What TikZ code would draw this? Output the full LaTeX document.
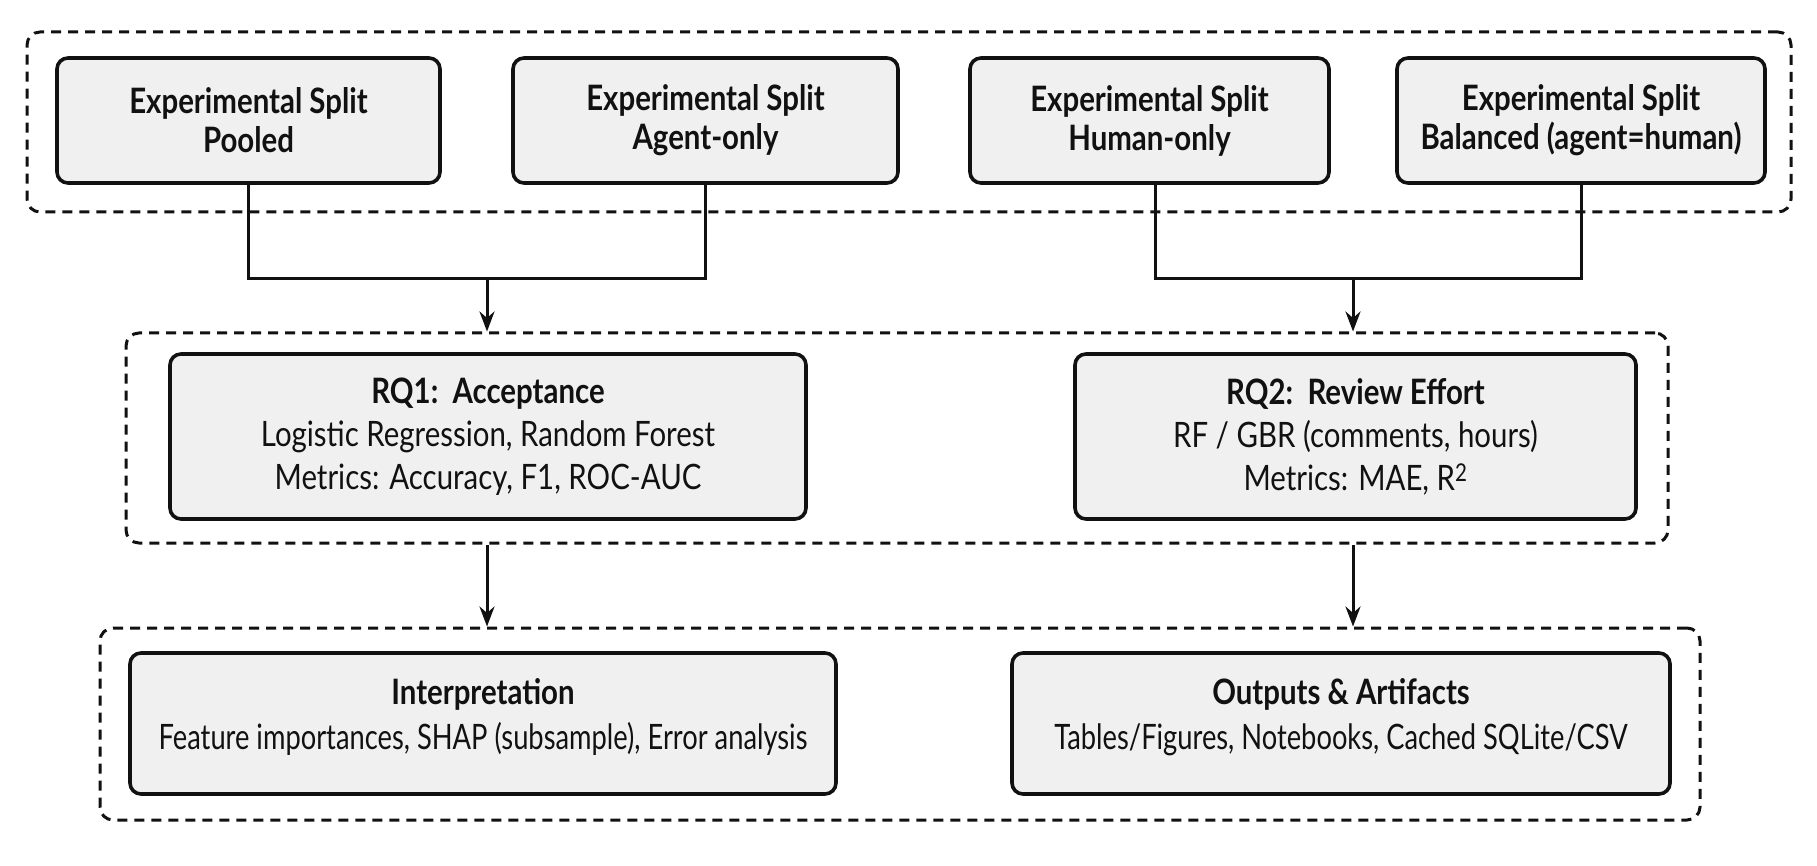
\documentclass[tikz,border=0pt]{standalone}
\usepackage{fontspec}
\setmainfont{Lato}[FakeStretch=0.84]
\newfontfamily\narrowfont{Lato}[FakeStretch=0.78]
\usetikzlibrary{arrows.meta,calc}
\definecolor{boxfill}{HTML}{F0F0F0}
\definecolor{ink}{HTML}{111111}
\newcommand{\lowstrut}{\rule[-20pt]{0pt}{0pt}}
\begin{document}
\begin{tikzpicture}[x=1pt,y=-1pt,
  box/.style={draw=ink,line width=3.6pt,fill=boxfill,rounded corners=11pt,align=center,inner sep=0pt,text=ink},
  splitbox/.style={box,minimum height=125pt,font=\fontsize{35}{39}\selectfont\bfseries},
  rqbox/.style={box,minimum height=165pt,font=\fontsize{35}{43}\selectfont},
  outbox/.style={box,minimum height=141pt,font=\fontsize{35}{45}\selectfont},
  group/.style={draw=ink,line width=3pt,dash pattern=on 10pt off 7pt,rounded corners=13pt,inner sep=0pt},
  link/.style={draw=ink,line width=3pt},
  arr/.style={link,-{Stealth[length=20pt,width=15pt]}}
]
\useasboundingbox (0,0) rectangle (1817,866);
% containers
\node[group,minimum width=1764pt,minimum height=180pt] (topgrp) at (909,122) {};
\node[group,minimum width=1542pt,minimum height=210pt] (midgrp) at (897,438) {};
\node[group,minimum width=1600pt,minimum height=192pt] (botgrp) at (900,724) {};
% top boxes
\node[splitbox,minimum width=383pt] (pooled) at (248.5,120.5) {Experimental Split\\Pooled};
\node[splitbox,minimum width=385pt] (agent) at (705.5,120.5) {Experimental Split\\Agent-only};
\node[splitbox,minimum width=359pt] (human) at (1149.5,120.5) {Experimental Split\\Human-only};
\node[splitbox,minimum width=368pt] (balanced) at (1581,120.5) {Experimental Split\\Balanced (agent=human)};
% middle boxes
\node[rqbox,minimum width=636pt] (rq1) at (488,436.5) {{\bfseries RQ1:\ \ Acceptance}\\Logistic Regression, Random Forest\\Metrics: Accuracy, F1, ROC-AUC};
\node[rqbox,minimum width=561pt] (rq2) at (1355.5,436.5) {{\bfseries RQ2:\ \ Review Effort}\\RF / GBR (comments, hours)\\Metrics: MAE, R\textsuperscript{2}};
% bottom boxes
\node[outbox,minimum width=706pt] (interp) at (483,723.5) {{\bfseries Interpretation}\\{\narrowfont Feature importances, SHAP (subsample), Error analysis}\lowstrut};
\node[outbox,minimum width=658pt] (outputs) at (1341,723.5) {{\bfseries Outputs \& Artifacts}\\{\narrowfont Tables/Figures, Notebooks, Cached SQLite/CSV}\lowstrut};
% junctions
\coordinate (jl) at (487,279);
\coordinate (jr) at (1353,279);
\draw[link] (pooled.south) |- (jl) -| (agent.south);
\draw[link] ($(human.south)+(6,0)$) |- (jr) -| (balanced.south);
\draw[arr] (jl) -- (jl |- midgrp.north);
\draw[arr] (jr) -- (jr |- midgrp.north);
\draw[arr] (jl |- midgrp.south) -- (jl |- botgrp.north);
\draw[arr] (jr |- midgrp.south) -- (jr |- botgrp.north);
\end{tikzpicture}
\end{document}
